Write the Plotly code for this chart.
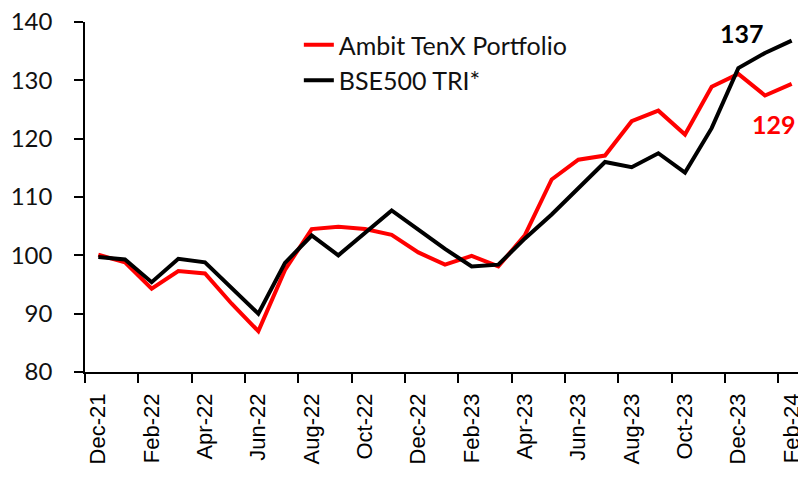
import plotly.graph_objects as go

months = ["Dec-21", "Jan-22", "Feb-22", "Mar-22", "Apr-22", "May-22", "Jun-22",
          "Jul-22", "Aug-22", "Sep-22", "Oct-22", "Nov-22", "Dec-22", "Jan-23",
          "Feb-23", "Mar-23", "Apr-23", "May-23", "Jun-23", "Jul-23", "Aug-23",
          "Sep-23", "Oct-23", "Nov-23", "Dec-23", "Jan-24", "Feb-24"]

ambit = [100.1, 98.8, 94.3, 97.3, 96.9, 91.7, 87.0, 97.5, 104.5, 104.9, 104.5,
         103.5, 100.5, 98.4, 99.9, 98.1, 103.5, 113.0, 116.4, 117.1, 123.0,
         124.8, 120.7, 128.9, 131.1, 127.4, 129.4]

bse500 = [99.7, 99.3, 95.4, 99.4, 98.8, 94.4, 90.0, 98.7, 103.4, 100.0, 103.8,
          107.7, 104.4, 101.1, 98.1, 98.4, 102.9, 107.0, 111.5, 116.0, 115.1,
          117.5, 114.2, 121.8, 132.1, 134.7, 136.8]

y_ticks = [80, 90, 100, 110, 120, 130, 140]

idx = list(range(len(months)))
tick_idx = idx[::2]
tick_text = months[::2]

fig = go.Figure()
fig.add_trace(go.Scatter(x=idx, y=ambit, mode="lines", name="Ambit TenX Portfolio",
                         line=dict(color="#FF0000", width=4)))
fig.add_trace(go.Scatter(x=idx, y=bse500, mode="lines", name="BSE500 TRI*",
                         line=dict(color="#000000", width=4)))

fig.add_annotation(x=idx[-1], y=bse500[-1], xref="x", yref="y",
                   text=f"<b>{round(bse500[-1])}</b>", showarrow=False,
                   xshift=-50, yshift=8,
                   font=dict(family="Lato", size=25, color="#000000"))
fig.add_annotation(x=idx[-1], y=ambit[-1], xref="x", yref="y",
                   text=f"<b>{round(ambit[-1])}</b>", showarrow=False,
                   xshift=-18, yshift=-40,
                   font=dict(family="Lato", size=25, color="#FF0000"))

fig.update_layout(
    width=806, height=477,
    margin=dict(l=77, r=9, t=14, b=113),
    paper_bgcolor="white", plot_bgcolor="white",
    showlegend=True,
    legend=dict(x=0.297, y=1.0, xanchor="left", yanchor="top",
                bgcolor="rgba(0,0,0,0)",
                font=dict(family="Lato", size=25, color="#111111"),
                tracegroupgap=0),
    xaxis=dict(range=[-0.5, len(months) - 0.5], tickmode="array",
               tickvals=tick_idx, ticktext=tick_text, tickangle=-90,
               ticks="", showgrid=False, zeroline=False, automargin=False,
               showline=True, linecolor="black", linewidth=1.5,
               ticklabelstandoff=11, ticklabeloverflow="allow",
               tickfont=dict(family="Liberation Sans", size=22, color="#000000"),
               minor=dict(tick0=-0.5, dtick=2, ticks="outside", ticklen=9,
                          tickwidth=1.5, tickcolor="black", showgrid=False)),
    yaxis=dict(range=[80, 140], tickmode="array", tickvals=y_ticks,
               ticks="outside", ticklen=9, tickwidth=1.5, tickcolor="black",
               showgrid=False, zeroline=False, automargin=False,
               showline=True, linecolor="black", linewidth=1.5,
               ticklabelstandoff=17, ticklabeloverflow="allow",
               tickfont=dict(family="Lato", size=24, color="#111111")),
)

fig.write_html("out.html")
